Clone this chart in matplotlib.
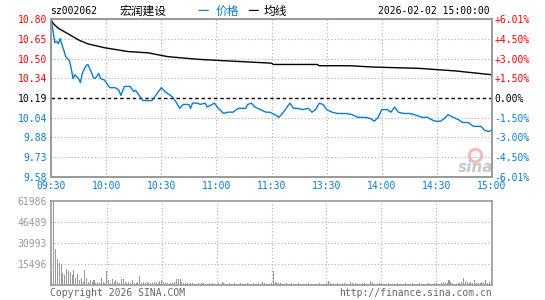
import matplotlib
matplotlib.use("Agg")
import matplotlib.pyplot as plt

# ---- data ----
prev_close = 10.19
pct_ticks = [6.01, 4.50, 3.00, 1.50, 0.00, -1.50, -3.00, -4.50, -6.01]
time_labels = ["09:30", "10:00", "10:30", "11:00", "11:30", "13:30", "14:00", "14:30", "15:00"]
time_pos = [0, 30, 60, 90, 120, 150, 180, 210, 240]

# price (minute index, price)
price_min = [0, 1, 2, 3, 4, 5, 6, 7, 8, 10, 11, 12, 13, 15, 16, 17, 19, 20, 22, 23,
             24, 26, 27, 29, 31, 32, 35, 37, 38, 40, 43, 45, 46, 48, 50, 53, 55, 56, 59, 60,
             62, 63, 66, 68, 70, 72, 74, 75, 76, 77, 80, 81, 84, 85, 89, 91, 94, 96, 99, 102,
             106, 107, 109, 111, 114, 117, 119, 122, 124, 126, 128, 130, 132, 134, 137, 140, 142, 144, 146, 148,
             150, 153, 156, 161, 164, 167, 171, 174, 176, 178, 180, 182, 183, 185, 187, 189, 192, 195, 198, 202,
             205, 206, 209, 212, 214, 216, 219, 222, 224, 227, 230, 234, 236, 238, 240]
price = [10.80, 10.72, 10.62, 10.63, 10.61, 10.65, 10.60, 10.56, 10.51, 10.48, 10.42, 10.34, 10.37, 10.34, 10.31, 10.38, 10.44, 10.45, 10.39, 10.35,
         10.34, 10.38, 10.34, 10.33, 10.29, 10.27, 10.27, 10.25, 10.21, 10.28, 10.28, 10.24, 10.25, 10.21, 10.17, 10.17, 10.17, 10.19, 10.25, 10.27,
         10.24, 10.23, 10.20, 10.16, 10.11, 10.14, 10.14, 10.14, 10.11, 10.15, 10.15, 10.14, 10.15, 10.12, 10.15, 10.11, 10.07, 10.08, 10.08, 10.11,
         10.11, 10.14, 10.15, 10.12, 10.10, 10.08, 10.08, 10.06, 10.04, 10.07, 10.11, 10.15, 10.11, 10.11, 10.10, 10.11, 10.08, 10.10, 10.15, 10.14,
         10.10, 10.08, 10.07, 10.07, 10.06, 10.04, 10.04, 10.03, 10.01, 10.04, 10.10, 10.10, 10.10, 10.08, 10.12, 10.08, 10.07, 10.07, 10.06, 10.04,
         10.04, 10.03, 10.01, 10.01, 10.03, 10.06, 10.04, 10.02, 10.00, 10.00, 9.97, 9.97, 9.94, 9.93, 9.94]

# average price line
avg_min = [0, 1, 4, 9, 15, 20, 29, 42, 53, 60, 64, 80, 93, 120, 121, 145, 146, 163, 175, 200, 220, 240]
avg = [10.80, 10.77, 10.73, 10.69, 10.64, 10.61, 10.58, 10.55, 10.54, 10.52, 10.51, 10.49, 10.48, 10.46, 10.45,
       10.45, 10.44, 10.44, 10.43, 10.42, 10.40, 10.37]

vol_ticks = [15496, 30993, 46489, 61986]
volume = [10600, 61986, 26600, 19200, 16200, 15500, 9100, 7600, 12000, 10600,
          9800, 7400, 11100, 5200, 7900, 3700, 5200, 2500, 11100, 4900,
          2500, 3700, 2500, 3700, 1700, 2500, 1500, 5400, 2500, 1800,
          10300, 3700, 1500, 4400, 2000, 3700, 2200, 1800, 4400, 4400,
          2500, 1800, 2500, 1500, 3700, 1500, 1800, 2500, 6600, 1500,
          2500, 1800, 2000, 1500, 1200, 1800, 2500, 2500, 1800, 3000,
          3700, 2500, 1500, 1200, 1000, 1500, 1200, 2500, 4400, 4400,
          4400, 2000, 1500, 1200, 1800, 900, 1200, 1500, 800, 1000,
          1200, 700, 1200, 1500, 1000, 800, 1200, 900, 1500, 800,
          1000, 1200, 900, 2500, 1200, 800, 1000, 1500, 700, 900,
          1200, 800, 1000, 1500, 900, 700, 1000, 1200, 800, 900,
          1500, 1000, 800, 1200, 900, 2500, 1200, 800, 1000, 900,
          1500, 10600, 2000, 1500, 1500, 1200, 900, 1000, 1500, 800,
          900, 1200, 800, 1000, 900, 1200, 800, 900, 1000, 800,
          1500, 900, 700, 1000, 800, 900, 1200, 1000, 800, 900,
          1500, 3200, 1200, 1000, 800, 900, 1200, 800, 1000, 900,
          1200, 800, 1000, 2500, 1500, 900, 1200, 800, 1000, 900,
          1500, 1200, 800, 1000, 3200, 2000, 900, 1000, 800, 1200,
          1500, 1000, 800, 900, 1200, 800, 1000, 900, 800, 1200,
          1000, 800, 900, 1200, 900, 800, 1000, 1200, 900, 800,
          1000, 1200, 800, 900, 1000, 800, 1200, 900, 1000, 1500,
          1200, 800, 1000, 1500, 2000, 1200, 1500, 3700, 2200, 1200,
          1000, 900, 1500, 1200, 2000, 5200, 2500, 2000, 1500, 2500,
          1800, 3700, 1500, 1200, 1800, 2500, 1500, 3700, 1500, 2500,
          3700]

red = "#ff0000"
blue = "#0a7ccc"
gray = "#999999"
grid_c = "#b0b0b0"
mono = "DejaVu Sans Mono"
cjk = ["Noto Sans CJK SC", "DejaVu Sans"]

W, H = 545, 300
fig = plt.figure(figsize=(W / 100, H / 100), dpi=100)
fig.patch.set_facecolor("white")

def box(x0, y0, x1, y1):
    return [x0 / W, 1 - y1 / H, (x1 - x0) / W, (y1 - y0) / H]

ax = fig.add_axes(box(51, 19, 492, 177))
axv = fig.add_axes(box(51, 201, 492, 285))

# ---- price panel ----
price_ticks = [prev_close * (1 + p / 100) for p in pct_ticks]
ax.set_xlim(0, 240)
ax.set_ylim(price_ticks[-1], price_ticks[0])
ax.set_yticks(price_ticks)
ax.set_yticklabels(["%.2f" % v for v in price_ticks], fontfamily=mono, fontsize=7)
for lab, p in zip(ax.get_yticklabels(), pct_ticks):
    lab.set_color(red if p > 0 else (blue if p < 0 else "black"))
ax.set_xticks(time_pos)
ax.set_xticklabels(time_labels, fontfamily=mono, fontsize=7, color=blue)
ax.tick_params(length=0, pad=3)
for p, v in zip(pct_ticks, price_ticks):
    if p == 0:
        ax.axhline(v, color="black", lw=1, ls=(0, (2.5, 2)), zorder=2)
    else:
        ax.axhline(v, color=grid_c, lw=0.8, ls=(0, (1, 2)), zorder=1)
for t in time_pos[1:-1]:
    ax.axvline(t, color=grid_c, lw=0.8, ls=(0, (1, 2)), zorder=1)

ax.plot(avg_min, avg, color="black", lw=1, zorder=3)
ax.plot(price_min, price, color=blue, lw=1, zorder=4)

axr = ax.twinx()
axr.set_ylim(ax.get_ylim())
axr.set_yticks(price_ticks)
axr.set_yticklabels(["%+.2f%%" % p if p != 0 else "0.00%" for p in pct_ticks], fontfamily=mono, fontsize=7)
for lab, p in zip(axr.get_yticklabels(), pct_ticks):
    lab.set_color(red if p > 0 else (blue if p < 0 else "black"))
axr.tick_params(length=0, pad=2)

for a in (ax, axr, axv):
    for s in a.spines.values():
        s.set_color(gray)
        s.set_linewidth(1.2)

# watermark
ax.plot([231], [9.745], marker="o", ms=9, mfc="none", mec="#f4b8b8", mew=2, zorder=0)
ax.text(231, 9.655, "sina", fontsize=11, fontstyle="italic", fontweight="bold",
        color="#c8c8c8", ha="center", va="center", zorder=0)

# ---- volume panel ----
axv.bar(range(len(volume)), volume, width=0.55, color=gray, zorder=3)
axv.set_xlim(-0.5, 240.5)
axv.set_ylim(0, vol_ticks[-1])
axv.set_yticks(vol_ticks)
axv.set_yticklabels([str(v) for v in vol_ticks], fontfamily=mono, fontsize=7, color=gray)
axv.set_xticks([])
axv.tick_params(length=0, pad=3)
for v in vol_ticks[:-1]:
    axv.axhline(v, color=grid_c, lw=0.8, ls=(0, (1, 2)), zorder=1)
for t in time_pos[1:-1]:
    axv.axvline(t, color=grid_c, lw=0.8, ls=(0, (1, 2)), zorder=1)

# ---- header / footer text ----
fig.text(50 / W, 1 - 11 / H, "sz002062", fontfamily=mono, fontsize=7, va="center", ha="left")
fig.text(120 / W, 1 - 11 / H, "宏润建设", family=cjk, fontsize=8.5, va="center", ha="left")
fig.text(199 / W, 1 - 11 / H, "━", family=cjk, fontsize=7, color=blue, va="center", ha="left")
fig.text(216 / W, 1 - 11 / H, "价格", family=cjk, fontsize=8.5, color=blue, va="center", ha="left")
fig.text(249 / W, 1 - 11 / H, "━", family=cjk, fontsize=7, color="black", va="center", ha="left")
fig.text(264 / W, 1 - 11 / H, "均线", family=cjk, fontsize=8.5, color="black", va="center", ha="left")
fig.text(490 / W, 1 - 11 / H, "2026-02-02 15:00:00", fontfamily=mono, fontsize=7, va="center", ha="right")
fig.text(50 / W, 1 - 293 / H, "Copyright 2026 SINA.COM", fontfamily=mono, fontsize=7, color="#666666", va="center", ha="left")
fig.text(492 / W, 1 - 293 / H, "http://finance.sina.com.cn", fontfamily=mono, fontsize=7, color="#666666", va="center", ha="right")

fig.savefig("out.png", dpi=100)
